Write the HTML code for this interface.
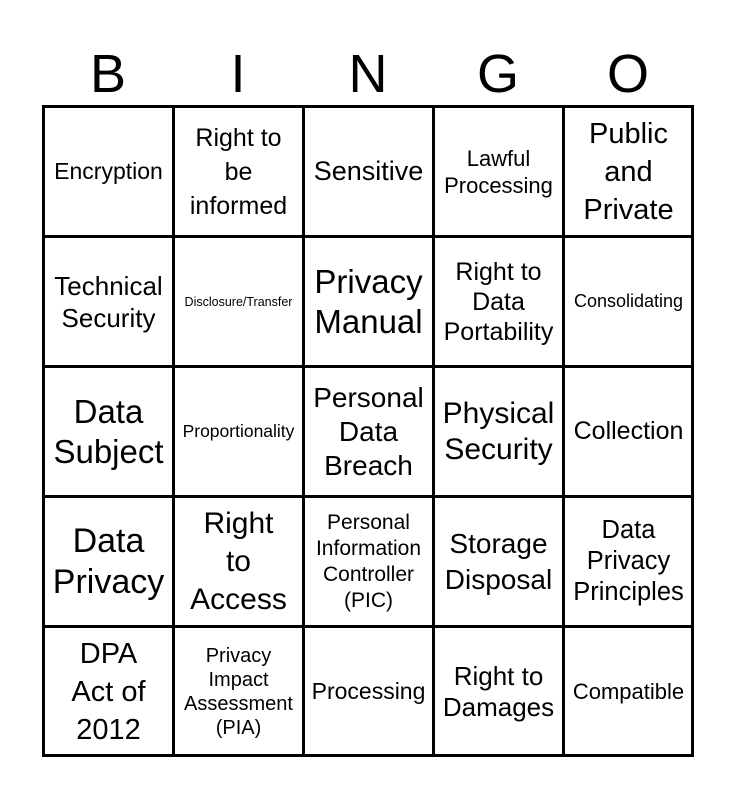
<!DOCTYPE html>
<html><head><style>
body{margin:0;background:#fff;width:737px;height:800px;position:relative;overflow:hidden;font-family:"Liberation Sans",Arial,sans-serif;color:#000}
.L{position:absolute;top:44px;font-size:54px;line-height:60px;width:130px;text-align:center}
.g{position:absolute;left:42px;top:105px;width:652px;height:652px}
.v{position:absolute;top:0;width:3px;height:652px;background:#000}
.h{position:absolute;left:0;height:3px;width:652px;background:#000}
.c{position:absolute;width:127px;height:127px;display:flex;align-items:center;justify-content:center;text-align:center;white-space:nowrap}
</style></head><body>
<div class="L" style="left:43px">B</div>
<div class="L" style="left:173px">I</div>
<div class="L" style="left:303px">N</div>
<div class="L" style="left:433px">G</div>
<div class="L" style="left:563px">O</div>
<div class="g">
<div class="v" style="left:0"></div><div class="v" style="left:130px"></div><div class="v" style="left:260px"></div><div class="v" style="left:390px"></div><div class="v" style="left:520px"></div><div class="v" style="left:649px"></div>
<div class="h" style="top:0"></div><div class="h" style="top:130px"></div><div class="h" style="top:260px"></div><div class="h" style="top:390px"></div><div class="h" style="top:520px"></div><div class="h" style="top:649px"></div>

<div class="c" style="left:3px;top:3px;font-size:23px">Encryption</div>
<div class="c" style="left:133px;top:3px;font-size:25px;line-height:34px">Right to<br>be<br>informed</div>
<div class="c" style="left:263px;top:3px;font-size:27px">Sensitive</div>
<div class="c" style="left:393px;top:3px;font-size:22px;line-height:27px">Lawful<br>Processing</div>
<div class="c" style="left:523px;top:3px;font-size:29px;line-height:38px">Public<br>and<br>Private</div>

<div class="c" style="left:3px;top:133px;font-size:26px;line-height:32px">Technical<br>Security</div>
<div class="c" style="left:133px;top:133px;font-size:12.5px">Disclosure/Transfer</div>
<div class="c" style="left:263px;top:133px;font-size:33px;line-height:40px">Privacy<br>Manual</div>
<div class="c" style="left:393px;top:133px;font-size:25px;line-height:30px">Right to<br>Data<br>Portability</div>
<div class="c" style="left:523px;top:133px;font-size:18px">Consolidating</div>

<div class="c" style="left:3px;top:263px;font-size:33px;line-height:40px">Data<br>Subject</div>
<div class="c" style="left:133px;top:263px;font-size:17.5px">Proportionality</div>
<div class="c" style="left:263px;top:263px;font-size:28px;line-height:34px">Personal<br>Data<br>Breach</div>
<div class="c" style="left:393px;top:263px;font-size:30px;line-height:36px">Physical<br>Security</div>
<div class="c" style="left:523px;top:263px;font-size:25px">Collection</div>

<div class="c" style="left:3px;top:393px;font-size:34px;line-height:41px">Data<br>Privacy</div>
<div class="c" style="left:133px;top:393px;font-size:30px;line-height:38px">Right<br>to<br>Access</div>
<div class="c" style="left:263px;top:393px;font-size:21px;line-height:26px">Personal<br>Information<br>Controller<br>(PIC)</div>
<div class="c" style="left:393px;top:393px;font-size:28px;line-height:36px">Storage<br>Disposal</div>
<div class="c" style="left:523px;top:393px;font-size:25.5px;line-height:31px">Data<br>Privacy<br>Principles</div>

<div class="c" style="left:3px;top:523px;font-size:29px;line-height:38px">DPA<br>Act of<br>2012</div>
<div class="c" style="left:133px;top:523px;font-size:20px;line-height:24px">Privacy<br>Impact<br>Assessment<br>(PIA)</div>
<div class="c" style="left:263px;top:523px;font-size:23px">Processing</div>
<div class="c" style="left:393px;top:523px;font-size:26px;line-height:31px">Right to<br>Damages</div>
<div class="c" style="left:523px;top:523px;font-size:22px">Compatible</div>
</div>
</body></html>
